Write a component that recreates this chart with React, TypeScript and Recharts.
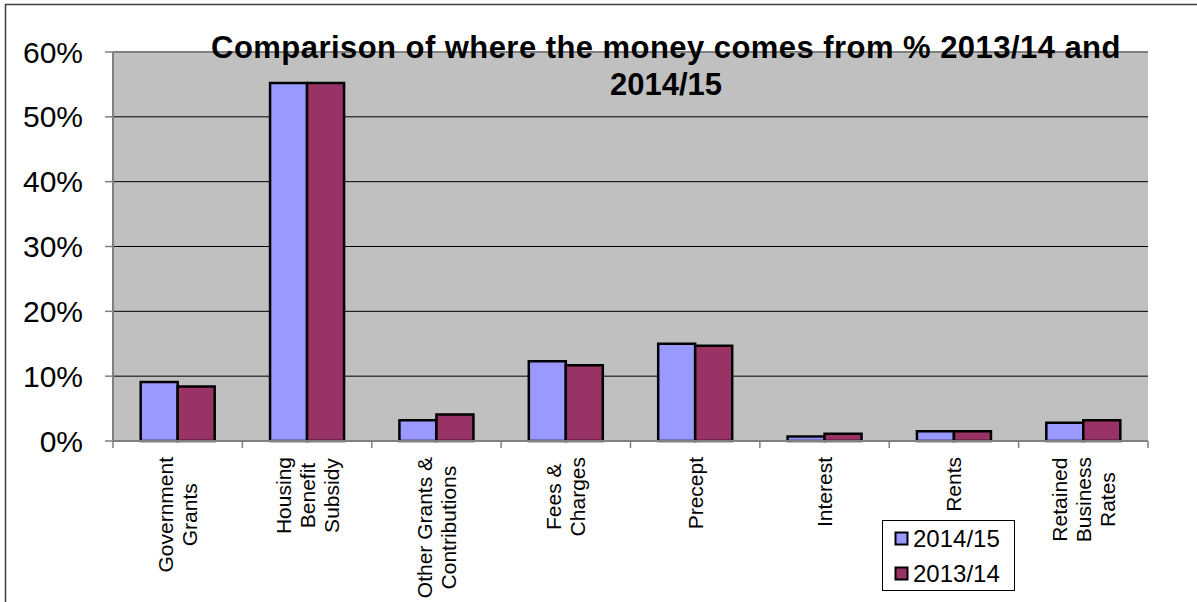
import React from "react";
import {
  BarChart,
  Bar,
  XAxis,
  YAxis,
  CartesianGrid,
  Legend,
  ReferenceLine,
} from "recharts";

// ---- Data ----
const categories: string[] = [
  "Government\nGrants",
  "Housing\nBenefit\nSubsidy",
  "Other Grants &\nContributions",
  "Fees &\nCharges",
  "Precept",
  "Interest",
  "Rents",
  "Retained\nBusiness\nRates",
];
const values2014_15: number[] = [9.1, 55.2, 3.2, 12.3, 15.0, 0.7, 1.5, 2.8];
const values2013_14: number[] = [8.4, 55.2, 4.1, 11.7, 14.7, 1.1, 1.5, 3.2];
const yTicks: number[] = [0, 10, 20, 30, 40, 50, 60];
const seriesNames: string[] = ["2014/15", "2013/14"];
const titleLines: string[] = [
  "Comparison of where the money comes from % 2013/14 and",
  "2014/15",
];

const data = categories.map((c, i) => ({
  name: c,
  a: values2014_15[i],
  b: values2013_14[i],
}));

const FONT = '"Liberation Sans", Arial, Helvetica, sans-serif';
const BLUE = "#9999FF";
const PURPLE = "#993366";
const GRAY = "#808080";
const X_TICK_SIZE = 7;
const X_TICK_MARGIN = 9;
const X_FONT_SIZE = 21;
const X_LINE_GAP = 24;

let measureCtx: CanvasRenderingContext2D | null = null;
function measure(text: string, font: string): number {
  if (typeof document === "undefined") return text.length * 10;
  if (!measureCtx) {
    const c = document.createElement("canvas");
    measureCtx = c.getContext("2d");
  }
  if (!measureCtx) return text.length * 10;
  measureCtx.font = font;
  return measureCtx.measureText(text).width;
}

const XTick = (props: any) => {
  const { x, y, payload, index, visibleTicksCount, width } = props;
  const half =
    payload && typeof payload.offset === "number" && payload.offset > 0
      ? payload.offset
      : width / (visibleTicksCount || 1) / 2;
  const axisY = y - X_TICK_SIZE - X_TICK_MARGIN;
  const lines = String(payload.value).split("\n");
  const n = lines.length;
  const font = `${X_FONT_SIZE}px "Liberation Sans", Arial, sans-serif`;
  const maxW = Math.max(...lines.map((l) => measure(l, font)));
  return (
    <g>
      <line
        x1={x - half}
        x2={x - half}
        y1={axisY}
        y2={axisY + X_TICK_SIZE}
        stroke={GRAY}
        strokeWidth={1.5}
      />
      {index === visibleTicksCount - 1 && (
        <line
          x1={x + half}
          x2={x + half}
          y1={axisY}
          y2={axisY + X_TICK_SIZE}
          stroke={GRAY}
          strokeWidth={1.5}
        />
      )}
      <g transform={`translate(${x},${y}) rotate(-90)`}>
        {lines.map((l, i) => (
          <text
            key={i}
            x={-maxW / 2}
            y={(i - (n - 1) / 2) * X_LINE_GAP}
            textAnchor="middle"
            dominantBaseline="central"
            fontSize={X_FONT_SIZE}
            fontFamily={FONT}
            fill="#000"
          >
            {l}
          </text>
        ))}
      </g>
    </g>
  );
};

const LegendBox = (props: any) => {
  const payload = [...(props.payload || [])].sort(
    (p: any, q: any) => seriesNames.indexOf(p.value) - seriesNames.indexOf(q.value)
  );
  return (
    <div
      style={{
        width: 133,
        height: 71,
        border: "1px solid #000",
        background: "#fff",
        boxSizing: "border-box",
      }}
    >
      <svg width={131} height={69} style={{ display: "block" }}>
        {payload.map((p: any, i: number) => (
          <g key={i}>
            <rect
              x={12.5}
              y={11.5 + i * 35}
              width={12}
              height={12}
              fill={p.color}
              stroke="#000"
              strokeWidth={2}
            />
            <text
              x={30}
              y={26 + i * 35}
              fontSize={24}
              fontFamily={FONT}
              fill="#000"
            >
              {p.value}
            </text>
          </g>
        ))}
      </svg>
    </div>
  );
};

export default function App() {
  return (
    <div
      style={{
        position: "absolute",
        left: 0,
        top: 0,
        width: 1197,
        height: 602,
        background: "#fff",
        fontFamily: FONT,
      }}
    >
      <BarChart
        width={1197}
        height={602}
        data={data}
        margin={{ top: 52, right: 49, bottom: 0, left: 0 }}
        barGap={0}
        barCategoryGap="21.4%"
      >
        <CartesianGrid
          vertical={false}
          stroke="#000"
          strokeWidth={1}
          fill="#C0C0C0"
          fillOpacity={1}
        />
        <XAxis
          dataKey="name"
          interval={0}
          height={161}
          tickSize={X_TICK_SIZE}
          tickMargin={X_TICK_MARGIN}
          tickLine={false}
          axisLine={{ stroke: GRAY, strokeWidth: 2 }}
          tick={<XTick />}
        />
        <YAxis
          width={113}
          domain={[0, 60]}
          ticks={yTicks}
          interval={0}
          tickFormatter={(v: number) => `${v}%`}
          tickSize={8}
          tickMargin={22}
          tickLine={{ stroke: GRAY, strokeWidth: 1.5 }}
          axisLine={{ stroke: GRAY, strokeWidth: 2 }}
          tick={{ fontSize: 30, fill: "#000", fontFamily: FONT }}
        />
        <YAxis
          yAxisId="r"
          orientation="right"
          width={0}
          domain={[0, 60]}
          tick={false}
          tickLine={false}
          axisLine={{ stroke: GRAY, strokeWidth: 2 }}
        />
        <ReferenceLine y={60} stroke={GRAY} strokeWidth={2} />
        <Bar
          dataKey="a"
          name={seriesNames[0]}
          fill={BLUE}
          stroke="#000"
          strokeWidth={2.5}
          isAnimationActive={false}
        />
        <Bar
          dataKey="b"
          name={seriesNames[1]}
          fill={PURPLE}
          stroke="#000"
          strokeWidth={2.5}
          isAnimationActive={false}
        />
        <Legend
          layout="vertical"
          align="center"
          verticalAlign="middle"
          content={<LegendBox />}
          wrapperStyle={{ left: 882, top: 520, width: 133, height: 71 }}
        />
      </BarChart>
      <svg
        width={1197}
        height={602}
        style={{ position: "absolute", left: 0, top: 0, pointerEvents: "none" }}
      >
        <path
          d="M5.5 602 V4.5 H1197"
          fill="none"
          stroke="#404040"
          strokeWidth={1.5}
        />
        {titleLines.map((t, i) => (
          <text
            key={i}
            x={666}
            y={58 + i * 37}
            textAnchor="middle"
            fontSize={31}
            fontWeight="bold"
            fontFamily={FONT}
            letterSpacing={i === 0 ? 0.45 : 0}
            fill="#000"
          >
            {t}
          </text>
        ))}
      </svg>
    </div>
  );
}
